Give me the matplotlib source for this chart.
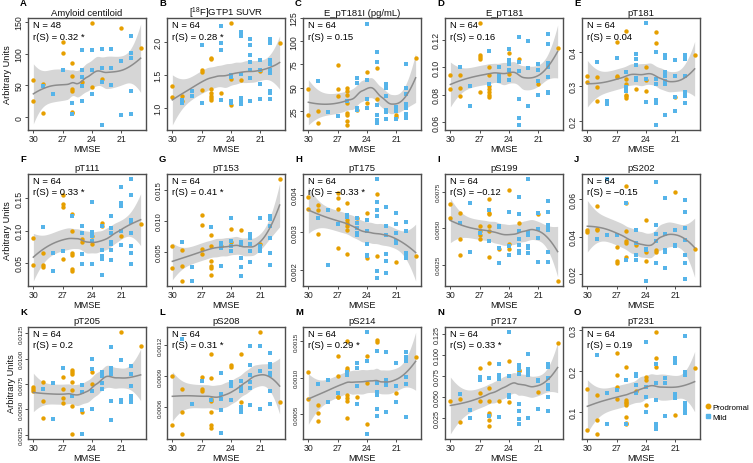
import numpy as np
import matplotlib
matplotlib.use("Agg")
import matplotlib.pyplot as plt
from matplotlib.lines import Line2D

plt.rcParams["font.family"] = ["Liberation Sans", "DejaVu Sans"]
plt.rcParams["mathtext.fontset"] = "custom"
plt.rcParams["mathtext.rm"] = "Liberation Sans"
plt.rcParams["mathtext.default"] = "regular"

# ---- data: (MMSE, value) pairs per group ----
amyloid_pro = [(30, 58), (30, 26), (29, 52), (29, 7), (27, 119), (27, 101), (26, 86), (26, 65), (26, 45),
               (26, 41), (26, 9), (26, 6), (25, 56), (24, 148), (24, 47), (23, 60), (21, 141), (19, 109)]
amyloid_mild = [(29, 49), (28, 36), (27, 75), (26, 23), (26, 5), (25, 105), (25, 75), (25, 64), (25, 49),
                (25, 26), (24, 105), (24, 75), (24, 36), (23, 107), (23, 78), (23, 56), (23, -12), (22, 107),
                (22, 78), (22, 51), (21, 88), (21, 4), (20, 127), (20, 101), (20, 93), (20, 41), (20, 5)]

gtp1_pro = [(30, 1.33), (30, 1.16), (29, 1.18), (29, 1.10), (27, 1.58), (27, 1.55), (27, 1.27), (26, 1.76),
            (26, 1.74), (26, 1.28), (26, 1.22), (26, 1.18), (26, 1.15), (26, 1.12), (25, 1.23), (24, 2.29),
            (24, 1.44), (24, 1.05), (23, 1.42), (21, 1.56), (19, 1.98)]
gtp1_mild = [(29, 1.12), (29, 1.08), (28, 1.25), (28, 1.18), (27, 1.95), (27, 1.07), (25, 2.24), (25, 1.98),
             (25, 1.88), (25, 1.12), (24, 1.50), (24, 1.47), (24, 1.10), (24, 1.08), (23, 2.15), (23, 2.13),
             (23, 2.10), (23, 1.52), (23, 1.15), (23, 1.12), (23, 1.08), (23, 1.06), (22, 2.05), (22, 1.95),
             (22, 1.80), (22, 1.70), (22, 1.58), (22, 1.45), (22, 1.10), (21, 1.73), (21, 1.57), (21, 1.37),
             (21, 1.14), (20, 2.05), (20, 1.98), (20, 1.73), (20, 1.66), (20, 1.57), (20, 1.53), (20, 1.25),
             (20, 1.22), (20, 1.14)]

ept181i_pro = [(30, 48), (30, 20), (29, 25), (29, 12), (27, 74), (27, 48), (27, 41), (26, 49), (26, 46),
               (26, 42), (26, 33), (26, 23), (26, 20), (26, 14), (26, 10), (25, 26), (24, 67), (24, 33),
               (23, 71), (23, 38), (21, 20), (21, 18), (19, 82)]
ept181i_mild = [(29, 57), (28, 24), (27, 19), (26, 35), (25, 60), (25, 55), (25, 28), (25, 26), (24, 119),
                (24, 58), (24, 38), (24, 28), (23, 88), (23, 78), (23, 31), (23, 20), (23, 15), (23, 12),
                (22, 54), (22, 49), (22, 41), (22, 26), (22, 24), (22, 16), (21, 29), (21, 25), (21, 16),
                (20, 75), (20, 50), (20, 43), (20, 32), (20, 28), (20, 21), (20, 17)]

ept181_pro = [(30, 0.094), (30, 0.084), (29, 0.094), (29, 0.085), (29, 0.079), (27, 0.132), (27, 0.109),
              (27, 0.107), (27, 0.106), (27, 0.082), (26, 0.100), (26, 0.094), (26, 0.086), (26, 0.084),
              (26, 0.082), (26, 0.080), (26, 0.078), (24, 0.110), (24, 0.095), (23, 0.106), (21, 0.088),
              (19, 0.114)]
ept181_mild = [(29, 0.100), (28, 0.086), (28, 0.072), (26, 0.112), (26, 0.088), (25, 0.100), (25, 0.094),
               (25, 0.092), (25, 0.090), (24, 0.113), (24, 0.105), (24, 0.102), (24, 0.098), (24, 0.091),
               (23, 0.122), (23, 0.104), (23, 0.097), (23, 0.077), (23, 0.063), (23, 0.058), (22, 0.119),
               (22, 0.099), (22, 0.072), (21, 0.102), (21, 0.098), (21, 0.090), (21, 0.080), (20, 0.124),
               (20, 0.117), (20, 0.103), (20, 0.100), (20, 0.093), (20, 0.082), (20, 0.081)]

pt181_pro = [(30, 0.330), (30, 0.314), (29, 0.326), (29, 0.297), (29, 0.257), (27, 0.43), (27, 0.331),
             (27, 0.326), (26, 0.46), (26, 0.322), (26, 0.307), (26, 0.276), (26, 0.271), (26, 0.267),
             (25, 0.293), (24, 0.357), (24, 0.319), (24, 0.288), (23, 0.457), (23, 0.426), (21, 0.269),
             (19, 0.392)]
pt181_mild = [(29, 0.37), (28, 0.257), (28, 0.252), (28, 0.248), (27, 0.383), (26, 0.343), (26, 0.297),
              (26, 0.286), (25, 0.395), (25, 0.381), (25, 0.362), (25, 0.324), (25, 0.319), (24, 0.484),
              (24, 0.322), (24, 0.255), (23, 0.40), (23, 0.322), (23, 0.307), (23, 0.259), (23, 0.252),
              (23, 0.188), (22, 0.39), (22, 0.383), (22, 0.341), (22, 0.329), (22, 0.316), (22, 0.308),
              (22, 0.217), (21, 0.376), (21, 0.329), (21, 0.27), (21, 0.229), (20, 0.39), (20, 0.381),
              (20, 0.331), (20, 0.283), (20, 0.273), (20, 0.252)]

pt111_pro = [(30, 0.089), (30, 0.0465), (29, 0.066), (29, 0.0465), (29, 0.044), (27, 0.156), (27, 0.141),
             (27, 0.136), (27, 0.0565), (26, 0.126), (26, 0.099), (26, 0.065), (26, 0.0625), (26, 0.040),
             (26, 0.0375), (25, 0.0875), (25, 0.0825), (24, 0.0925), (24, 0.080), (23, 0.1115), (23, 0.1065),
             (21, 0.091), (19, 0.111)]
pt111_mild = [(29, 0.106), (28, 0.065), (28, 0.0375), (27, 0.0685), (26, 0.1235), (25, 0.1065), (25, 0.096),
              (25, 0.0635), (25, 0.049), (24, 0.145), (24, 0.0975), (24, 0.0925), (24, 0.0835), (24, 0.049),
              (23, 0.1065), (23, 0.070), (23, 0.060), (23, 0.0565), (23, 0.0315), (22, 0.1235), (22, 0.1035),
              (22, 0.096), (22, 0.0825), (22, 0.080), (22, 0.070), (22, 0.055), (21, 0.1675), (21, 0.1425),
              (21, 0.139), (21, 0.099), (21, 0.0775), (20, 0.18), (20, 0.156), (20, 0.116), (20, 0.114),
              (20, 0.096), (20, 0.0765), (20, 0.065), (20, 0.049)]

pt153_pro = [(30, 0.00595), (30, 0.00242), (29, 0.00526), (29, 0.00268), (29, 0.0003), (27, 0.01095),
             (27, 0.00937), (27, 0.00542), (27, 0.00463), (26, 0.00779), (26, 0.00595), (26, 0.00358),
             (26, 0.00268), (26, 0.00242), (26, 0.0012), (25, 0.00595), (24, 0.00874), (24, 0.00658),
             (23, 0.00858), (21, 0.00632), (19, 0.01674)]
pt153_mild = [(29, 0.00658), (28, 0.00253), (28, 0.0003), (26, 0.00895), (25, 0.00647), (25, 0.00595),
              (25, 0.00568), (25, 0.00268), (24, 0.0104), (24, 0.00674), (24, 0.00595), (24, 0.00516),
              (23, 0.0066), (23, 0.0061), (23, 0.0040), (23, 0.00253), (23, 0.0011), (22, 0.0079),
              (22, 0.00753), (22, 0.00726), (22, 0.0062), (22, 0.00505), (22, 0.00332), (21, 0.0104),
              (21, 0.0060), (21, 0.00542), (21, 0.00516), (20, 0.01084), (20, 0.0103), (20, 0.0091),
              (20, 0.00726), (20, 0.00474), (20, 0.00279)]

pt175_pro = [(30, 0.00395), (30, 0.00363), (29, 0.00372), (29, 0.0036), (29, 0.00295), (27, 0.00405),
             (27, 0.00391), (27, 0.00363), (27, 0.0026), (26, 0.00377), (26, 0.00334), (26, 0.00326),
             (26, 0.00316), (26, 0.00306), (26, 0.00243), (25, 0.00339), (24, 0.00351), (24, 0.00233),
             (23, 0.00401), (23, 0.00239), (21, 0.00222), (19, 0.00237)]
pt175_mild = [(29, 0.00338), (28, 0.0036), (28, 0.00213), (27, 0.00322), (26, 0.00345), (26, 0.00341),
              (25, 0.00337), (25, 0.00326), (25, 0.00313), (25, 0.00298), (25, 0.00293), (24, 0.00334),
              (24, 0.00303), (24, 0.0027), (24, 0.00241), (24, 0.00237), (23, 0.00441), (23, 0.00381),
              (23, 0.00359), (23, 0.00343), (23, 0.00199), (23, 0.00181), (22, 0.00368), (22, 0.00318),
              (22, 0.00293), (22, 0.00243), (22, 0.00226), (22, 0.00193), (21, 0.00351), (21, 0.00322),
              (21, 0.00298), (21, 0.00278), (21, 0.00272), (20, 0.00328), (20, 0.00305), (20, 0.00245),
              (20, 0.00238), (20, 0.00233)]

ps199_pro = [(30, 0.00667), (30, 0.00567), (29, 0.00605), (29, 0.00426), (29, 0.00315), (27, 0.00511),
             (27, 0.00478), (27, 0.00451), (27, 0.00422), (26, 0.00696), (26, 0.00605), (26, 0.00594),
             (26, 0.00511), (26, 0.00482), (26, 0.00304), (25, 0.00355), (24, 0.00757), (24, 0.00388),
             (24, 0.00355), (23, 0.00533), (21, 0.00594), (19, 0.00138)]
ps199_mild = [(29, 0.00533), (28, 0.00674), (28, 0.00339), (27, 0.00467), (26, 0.00623), (26, 0.00411),
              (25, 0.00516), (25, 0.00504), (25, 0.00362), (25, 0.00259), (24, 0.00612), (24, 0.00377),
              (24, 0.00317), (23, 0.00712), (23, 0.00594), (23, 0.00482), (23, 0.00422), (23, 0.00382),
              (23, 0.0034), (23, 0.00326), (22, 0.00835), (22, 0.00473), (22, 0.00451), (22, 0.00377),
              (22, 0.00366), (22, 0.00326), (21, 0.00605), (21, 0.00496), (21, 0.00433), (21, 0.00266),
              (20, 0.00685), (20, 0.00612), (20, 0.00518), (20, 0.00504), (20, 0.00489), (20, 0.00333),
              (20, 0.00266)]

ps202_pro = [(30, 0.0434), (30, 0.0425), (29, 0.0564), (29, 0.0443), (29, 0.0434), (27, 0.0345), (27, 0.0268),
             (27, 0.0259), (26, 0.0670), (26, 0.0577), (26, 0.0429), (26, 0.0375), (26, 0.0366), (26, 0.0291),
             (25, 0.0354), (24, 0.0488), (24, 0.0318), (24, 0.0268), (23, 0.0330), (23, 0.0318), (21, 0.0639),
             (19, 0.0332)]
ps202_mild = [(29, 0.0389), (28, 0.0707), (28, 0.0407), (27, 0.0407), (26, 0.0577), (26, 0.0277), (25, 0.0434),
              (25, 0.0368), (25, 0.0300), (25, 0.0277), (24, 0.0336), (24, 0.0327), (24, 0.0163), (23, 0.0690),
              (23, 0.0464), (23, 0.0416), (23, 0.0375), (23, 0.0259), (22, 0.0607), (22, 0.0411), (22, 0.0330),
              (22, 0.0318), (22, 0.0232), (21, 0.0434), (21, 0.0354), (21, 0.0348), (20, 0.0595), (20, 0.0532),
              (20, 0.0446), (20, 0.0380), (20, 0.0300), (20, 0.0259), (20, 0.0175)]

pt205_pro = [(30, 0.00718), (30, 0.00696), (30, 0.0068), (29, 0.00769), (29, 0.00582), (29, 0.00418),
             (27, 0.00823), (27, 0.00703), (27, 0.00608), (27, 0.0056), (26, 0.00892), (26, 0.0087),
             (26, 0.00848), (26, 0.00769), (26, 0.00687), (26, 0.00532), (26, 0.00259), (25, 0.00475),
             (24, 0.00864), (24, 0.00753), (21, 0.0126), (19, 0.01123)]
pt205_mild = [(29, 0.00703), (28, 0.00759), (28, 0.00405), (27, 0.00908), (26, 0.00633), (25, 0.00744),
              (25, 0.00671), (25, 0.0049), (25, 0.00259), (24, 0.00997), (24, 0.00902), (24, 0.0068),
              (24, 0.005), (23, 0.0087), (23, 0.00829), (23, 0.00759), (23, 0.00703), (22, 0.01114),
              (22, 0.00908), (22, 0.00892), (22, 0.0087), (22, 0.00848), (22, 0.00582), (22, 0.00396),
              (21, 0.00981), (21, 0.00595), (21, 0.00576), (20, 0.00927), (20, 0.00848), (20, 0.00728),
              (20, 0.00627), (20, 0.00601), (20, 0.00576)]

ps208_pro = [(30, 0.000906), (30, 0.00043), (29, 0.00078), (29, 0.00055), (29, 0.00034), (27, 0.000894),
             (27, 0.00078), (27, 0.00076), (26, 0.00112), (26, 0.00088), (26, 0.00068), (26, 0.00066),
             (26, 0.00055), (26, 0.00043), (26, 0.0004), (24, 0.00101), (24, 0.00099), (23, 0.00112),
             (23, 0.00065), (21, 0.00133), (19, 0.00065)]
ps208_mild = [(29, 0.00126), (28, 0.00063), (27, 0.00085), (26, 0.00067), (25, 0.00093), (25, 0.00073),
              (25, 0.00068), (25, 0.00057), (25, 0.00035), (24, 0.00084), (24, 0.00081), (24, 0.00067),
              (23, 0.00085), (23, 0.0008), (23, 0.00076), (23, 0.0006), (23, 0.00058), (23, 0.00055),
              (22, 0.00119), (22, 0.00101), (22, 0.00091), (22, 0.00084), (22, 0.00079), (22, 0.00062),
              (21, 0.00119), (21, 0.00095), (21, 0.00058), (20, 0.00113), (20, 0.00102), (20, 0.00099),
              (20, 0.00093), (20, 0.00091), (20, 0.00076), (20, 0.00063)]

ps214_pro = [(30, 0.00107), (30, 0.0007), (29, 0.00062), (29, 0.00051), (29, 0.0004), (27, 0.0013),
             (27, 0.00102), (27, 0.00074), (27, 0.00073), (26, 0.0015), (26, 0.00113), (26, 0.0011),
             (26, 0.00076), (26, 0.00072), (26, 0.00068), (26, 0.00045), (25, 0.00074), (24, 0.0013),
             (24, 0.00093), (24, 0.00037), (23, 0.00151), (23, 0.00149), (21, 0.00079), (19, 0.00128)]
ps214_mild = [(29, 0.00091), (28, 0.00097), (28, 0.00066), (27, 0.00079), (26, 0.00107), (26, 0.00103),
              (25, 0.0012), (25, 0.00113), (25, 0.00089), (25, 0.00064), (24, 0.00162), (24, 0.00123),
              (24, 0.00023), (23, 0.00136), (23, 0.00092), (23, 0.0008), (23, 0.00078), (23, 0.00076),
              (23, 0.00057), (23, 0.00047), (22, 0.00135), (22, 0.00096), (22, 0.00093), (22, 0.0009),
              (22, 0.00053), (21, 0.0012), (21, 0.00089), (21, 0.00066), (20, 0.00135), (20, 0.00128),
              (20, 0.00125), (20, 0.00123), (20, 0.00101), (20, 0.00091), (20, 0.00046)]

pt217_pro = [(30, 0.0445), (29, 0.047), (29, 0.0195), (27, 0.0838), (27, 0.0548), (27, 0.0445), (26, 0.0904),
             (26, 0.0603), (26, 0.0445), (26, 0.0305), (26, 0.0287), (26, 0.0224), (26, 0.0158), (25, 0.0445),
             (24, 0.0923), (24, 0.0434), (23, 0.0824), (23, 0.0801), (21, 0.0555), (19, 0.1143)]
pt217_mild = [(29, 0.0537), (28, 0.0346), (28, 0.0243), (27, 0.0732), (27, 0.0695), (26, 0.072), (26, 0.0272),
              (25, 0.0886), (25, 0.0765), (25, 0.0713), (25, 0.0261), (24, 0.127), (24, 0.0746), (24, 0.0518),
              (24, 0.05), (23, 0.0875), (23, 0.0831), (23, 0.0776), (23, 0.0419), (23, 0.0335), (23, 0.0235),
              (23, 0.0176), (22, 0.1015), (22, 0.0831), (22, 0.0783), (22, 0.0757), (22, 0.025), (21, 0.0702),
              (21, 0.0684), (21, 0.036), (20, 0.0886), (20, 0.086), (20, 0.072), (20, 0.0636), (20, 0.061),
              (20, 0.0592), (20, 0.05), (20, 0.0335)]

pt231_pro = [(30, 0.157), (30, 0.057), (29, 0.141), (29, 0.080), (29, 0.047), (27, 0.243), (27, 0.19),
             (27, 0.162), (27, 0.131), (26, 0.209), (26, 0.129), (26, 0.125), (26, 0.121), (26, 0.117),
             (26, 0.088), (26, 0.074), (26, 0.070), (25, 0.151), (24, 0.184), (24, 0.178), (24, 0.117),
             (23, 0.294), (23, 0.231), (23, 0.209), (21, 0.094), (19, 0.208)]
pt231_mild = [(29, 0.238), (28, 0.146), (28, 0.070), (27, 0.154), (26, 0.178), (26, 0.07), (25, 0.192),
              (25, 0.187), (25, 0.165), (25, 0.146), (24, 0.271), (24, 0.161), (24, 0.137), (24, 0.10),
              (23, 0.216), (23, 0.170), (23, 0.129), (23, 0.070), (23, 0.065), (23, 0.060), (22, 0.183),
              (22, 0.170), (22, 0.09), (21, 0.23), (21, 0.224), (21, 0.22), (21, 0.145), (21, 0.135),
              (20, 0.284), (20, 0.198), (20, 0.19), (20, 0.123), (20, 0.119), (20, 0.109), (20, 0.104),
              (20, 0.098)]

letters = list("ABCDEFGHIJKLMNO")
titles = ["Amyloid centiloid", "[$^{18}$F]GTP1 SUVR", "E_pT181I (pg/mL)", "E_pT181", "pT181",
          "pT111", "pT153", "pT175", "pS199", "pS202",
          "pT205", "pS208", "pS214", "pT217", "pT231"]
n_labels = [48] + [64] * 14
r_labels = ["0.32 *", "0.28 *", "0.15", "0.16", "0.04",
            "0.33 *", "0.41 *", "\u22120.33 *", "\u22120.12", "\u22120.15",
            "0.2", "0.31 *", "0.29 *", "0.33 *", "0.19"]
prodromal = [amyloid_pro, gtp1_pro, ept181i_pro, ept181_pro, pt181_pro,
             pt111_pro, pt153_pro, pt175_pro, ps199_pro, ps202_pro,
             pt205_pro, ps208_pro, ps214_pro, pt217_pro, pt231_pro]
mild = [amyloid_mild, gtp1_mild, ept181i_mild, ept181_mild, pt181_mild,
        pt111_mild, pt153_mild, pt175_mild, ps199_mild, ps202_mild,
        pt205_mild, ps208_mild, ps214_mild, pt217_mild, pt231_mild]
y_ticks = [[0, 50, 100, 150], [1.0, 1.5, 2.0], [25, 50, 75, 100, 125], [0.06, 0.08, 0.10, 0.12], [0.2, 0.3, 0.4],
           [0.05, 0.10, 0.15], [0.005, 0.010, 0.015], [0.002, 0.003, 0.004], [0.0025, 0.0050, 0.0075],
           [0.02, 0.04, 0.06],
           [0.0025, 0.0050, 0.0075, 0.0100, 0.0125], [0.0006, 0.0009, 0.0012], [0.0005, 0.0010, 0.0015],
           [0.025, 0.050, 0.075, 0.100, 0.125], [0.1, 0.2, 0.3]]
y_ticklabels = [["0", "50", "100", "150"], ["1.0", "1.5", "2.0"], ["25", "50", "75", "100", "125"],
                ["0.06", "0.08", "0.10", "0.12"], ["0.2", "0.3", "0.4"],
                ["0.05", "0.10", "0.15"], ["0.005", "0.010", "0.015"], ["0.002", "0.003", "0.004"],
                ["0.0025", "0.0050", "0.0075"], ["0.02", "0.04", "0.06"],
                ["0.0025", "0.0050", "0.0075", "0.0100", "0.0125"], ["0.0006", "0.0009", "0.0012"],
                ["0.0005", "0.0010", "0.0015"], ["0.025", "0.050", "0.075", "0.100", "0.125"],
                ["0.1", "0.2", "0.3"]]
x_ticks = [30, 27, 24, 21]

C_PRO = "#E69F00"
C_MILD = "#56B4E9"


def local_rows(x, pts, q):
    # rows of the local-quadratic smoother: value and slope at each point
    n = len(x)
    val, slope = [], []
    for x0 in pts:
        d = np.abs(x - x0)
        h = np.sort(d)[q - 1]
        w = np.clip(1 - (d / h) ** 3, 0, None) ** 3
        X = np.column_stack([np.ones(n), x - x0, (x - x0) ** 2])
        XtW = X.T * w
        B = np.linalg.solve(XtW @ X, XtW)
        val.append(B[0])
        slope.append(B[1])
    return np.array(val), np.array(slope)


def kd_vertices(x, span):
    # 1-d version of the loess kd-tree cell splitting (cell = 0.2)
    xs = np.sort(x)
    n = len(xs)
    fc = int(np.floor(n * span * 0.2))
    mu = 0.005 * (xs[-1] - xs[0])
    lo, hi = xs[0] - mu, xs[-1] + mu
    verts = {lo, hi}

    def split(l, u, a, b):
        if u - l + 1 <= fc:
            return
        m = (l + u + 2) // 2 - 1
        off = 0
        while l <= m + off < u:
            if xs[m + off] == xs[m + off + 1]:
                off = -off
                if off >= 0:
                    off += 1
            else:
                m = m + off
                break
        if xs[m] == a or xs[m] == b:
            return
        t = 0.5 * (xs[m] + xs[m + 1])
        if t <= a or t >= b:
            return
        verts.add(t)
        split(l, m, a, t)
        split(m + 1, u, t, b)

    split(0, n - 1, lo, hi)
    return np.array(sorted(verts))


def interp_rows(pts, v, V, S):
    out = []
    for p in pts:
        k = min(max(np.searchsorted(v, p) - 1, 0), len(v) - 2)
        h = v[k + 1] - v[k]
        t = (p - v[k]) / h
        h00 = 2 * t ** 3 - 3 * t ** 2 + 1
        h10 = t ** 3 - 2 * t ** 2 + t
        h01 = -2 * t ** 3 + 3 * t ** 2
        h11 = t ** 3 - t ** 2
        out.append(h00 * V[k] + h10 * h * S[k] + h01 * V[k + 1] + h11 * h * S[k + 1])
    return np.array(out)


def loess(x, y, grid, span=0.75):
    n = len(x)
    q = int(np.floor(n * span))
    v = kd_vertices(x, span)
    V, S = local_rows(x, v, q)
    L = interp_rows(x, v, V, S)
    res = y - L @ y
    d1 = n - 2 * np.trace(L) + np.sum(L * L)
    sigma = np.sqrt(np.sum(res ** 2) / d1)
    G = interp_rows(grid, v, V, S)
    fit = G @ y
    se = sigma * np.sqrt(np.sum(G ** 2, axis=1))
    return fit, fit - 2.0 * se, fit + 2.0 * se


def label_em(s):
    return sum(0.278 if ch == "." else 0.556 for ch in s)


fig = plt.figure(figsize=(7.53, 4.64), dpi=100)
W, H = 753.0, 464.0
col_left = [28, 167, 303, 445, 582]
row_top = [19, 175, 328]
ax_w, ax_h = 118, 112
frame = "#4d4d4d"
grid = np.linspace(19, 30, 80)

for i in range(15):
    r, c = divmod(i, 5)
    left, top = col_left[c], row_top[r]
    ax = fig.add_axes([left / W, 1 - (top + ax_h) / H, ax_w / W, ax_h / H])

    pro = np.array(prodromal[i], dtype=float)
    mi = np.array(mild[i], dtype=float)
    allpts = np.vstack([pro, mi])
    fit, lo, hi = loess(allpts[:, 0], allpts[:, 1], grid)

    ax.fill_between(grid, lo, hi, color="#999999", alpha=0.4, linewidth=0, zorder=1)
    ax.scatter(pro[:, 0], pro[:, 1], s=10, marker="o", color=C_PRO, linewidths=0, zorder=2)
    ax.scatter(mi[:, 0], mi[:, 1], s=9, marker="s", color=C_MILD, linewidths=0, zorder=2)
    ax.plot(grid, fit, color="#8c8c8c", lw=1.1, zorder=3)

    ymin = min(allpts[:, 1].min(), lo.min())
    ymax = max(allpts[:, 1].max(), hi.max())
    pad = 0.05 * (ymax - ymin)
    ax.set_ylim(ymin - pad, ymax + pad)
    ax.set_xlim(30.55, 18.45)

    # shrink long y tick labels so they fit along the axis
    step_px = ax_h * (y_ticks[i][1] - y_ticks[i][0]) / (ymax - ymin + 2 * pad)
    em = max(label_em(s) for s in y_ticklabels[i]) * 100 / 72
    yfs = min(6.3, 19.0 / em, 0.85 * step_px / em)

    ax.set_xticks(x_ticks)
    ax.set_xticklabels([str(t) for t in x_ticks])
    ax.set_yticks(y_ticks[i])
    ax.set_yticklabels(y_ticklabels[i], rotation=90, va="center")
    ax.tick_params(axis="both", length=2.2, width=0.7, color=frame,
                   labelcolor="#222222", pad=1.0)
    ax.tick_params(axis="x", labelsize=6.3)
    ax.tick_params(axis="y", labelsize=yfs)
    for sp in ax.spines.values():
        sp.set_color(frame)
        sp.set_linewidth(1.0)

    ax.set_xlabel("MMSE", fontsize=6.6, labelpad=0.5, color="#111111")
    if c == 0:
        ax.set_ylabel("Arbitrary Units", fontsize=6.6, labelpad=2.0, color="#111111")

    ax.text(0.5, 1 + 6 / ax_h, titles[i], transform=ax.transAxes, ha="center", va="center",
            fontsize=6.8, color="#111111")
    ax.text(-8 / ax_w, 1 + 15 / ax_h, letters[i], transform=ax.transAxes, ha="left", va="center",
            fontsize=6.8, fontweight="bold")
    ax.text(5 / ax_w, 1 - 7 / ax_h, "N = %d" % n_labels[i], transform=ax.transAxes,
            ha="left", va="center", fontsize=6.8, zorder=5)
    ax.text(5 / ax_w, 1 - 18 / ax_h, "r(S) = " + r_labels[i], transform=ax.transAxes,
            ha="left", va="center", fontsize=6.8, zorder=5)

handles = [Line2D([], [], marker="o", ls="", color=C_PRO, markersize=3.2),
           Line2D([], [], marker="s", ls="", color=C_MILD, markersize=3.0)]
fig.legend(handles, ["Prodromal", "Mild"], loc="center left",
           bbox_to_anchor=(701 / W, 1 - 413 / H), frameon=False, fontsize=5.8,
           handletextpad=0.15, handlelength=0.8, labelspacing=0.3, borderpad=0)

fig.savefig("out.png", dpi=100)
